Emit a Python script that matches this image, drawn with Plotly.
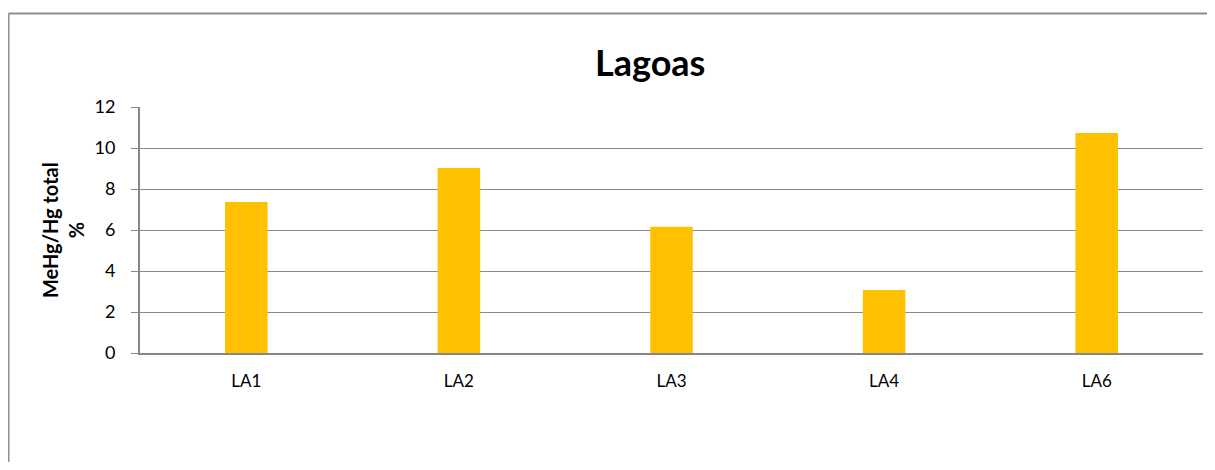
import plotly.graph_objects as go

categories = ["LA1", "LA2", "LA3", "LA4", "LA6"]
values = [7.37, 9.02, 6.16, 3.07, 10.73]
y_ticks = [0, 2, 4, 6, 8, 10, 12]

FONT = "Lato, Calibri, Carlito, Liberation Sans, sans-serif"

# page body has an 8px margin; figure coordinates = page coordinates - 8
OFF = 8
W, H = 1199, 454
ml, mr, mt, mb = 140 - OFF, 4, 107 - OFF, 454 - (353 - OFF)
PW, PH = W - ml - mr, H - mt - mb


def px(x):
    return (x - OFF - ml) / PW


def py(y):
    return (H - mb - (y - OFF)) / PH


fig = go.Figure()
fig.add_trace(go.Bar(
    x=categories, y=values,
    marker=dict(color="#FFC000", line=dict(width=0)),
    hoverinfo="x+y",
))

fig.update_layout(
    width=W, height=H,
    margin=dict(l=ml, r=mr, t=mt, b=mb, pad=0),
    paper_bgcolor="white", plot_bgcolor="white",
    bargap=0.8,
    showlegend=False,
    font=dict(family=FONT, size=18, color="#000000"),
    xaxis=dict(
        type="category",
        showline=True, linecolor="#868686", linewidth=2,
        showgrid=False, ticks="", tickfont=dict(size=17),
        ticklabelstandoff=12,
        zeroline=False, fixedrange=True,
    ),
    yaxis=dict(
        range=[0, 12], tickvals=y_ticks, ticktext=[str(v) for v in y_ticks],
        showline=True, linecolor="#868686", linewidth=2,
        showgrid=True, gridcolor="#8a8a8a", gridwidth=1.3,
        ticks="outside", ticklen=7, tickcolor="#868686", tickwidth=1.3,
        ticklabelstandoff=12,
        tickfont=dict(size=18),
        zeroline=False, fixedrange=True,
    ),
    annotations=[
        dict(text="<b>Lagoas</b>", xref="paper", yref="paper",
             x=px(650), y=py(62),
             xanchor="center", yanchor="middle", showarrow=False,
             font=dict(family=FONT, size=36, color="#000000")),
        dict(text="<b>MeHg/Hg total<br>%</b>", xref="paper", yref="paper",
             x=px(63), y=py(230), textangle=-90,
             xanchor="center", yanchor="middle", showarrow=False,
             font=dict(family=FONT, size=20, color="#000000")),
    ],
    shapes=[
        dict(type="line", xref="paper", yref="paper",
             x0=px(8.5), x1=px(1216), y0=py(13.5), y1=py(13.5),
             line=dict(color="#8e8e8e", width=2)),
        dict(type="line", xref="paper", yref="paper",
             x0=px(8.5), x1=px(8.5), y0=py(13.5), y1=py(475),
             line=dict(color="#8e8e8e", width=2)),
    ],
)

fig.write_html("out.html")
